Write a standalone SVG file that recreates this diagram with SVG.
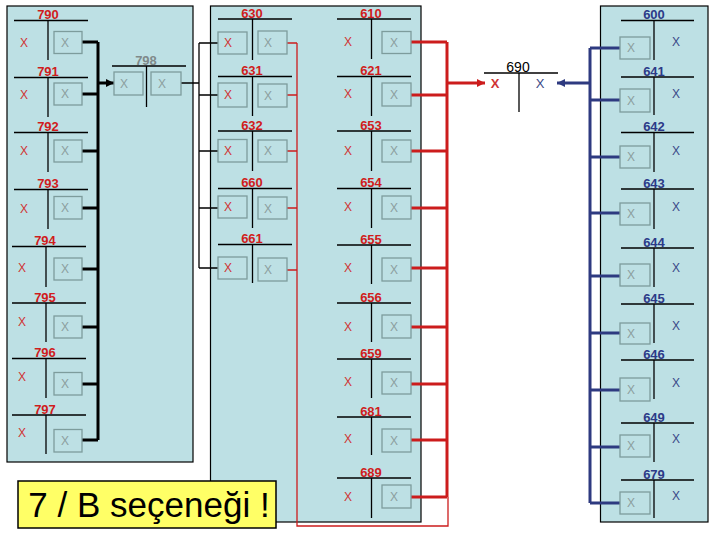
<svg xmlns="http://www.w3.org/2000/svg" width="720" height="540" viewBox="0 0 720 540">
<style>
.pn{fill:#bde0e4;stroke:#000;stroke-width:1.2}
.nl{stroke:#000;stroke-width:1.3;fill:none}
.bx{fill:none;stroke:#7d9c9c;stroke-width:1.3}
text{font-family:"Liberation Sans",Arial,sans-serif}
.lr{font-size:13px;font-weight:bold;fill:#d01c1c;text-anchor:middle}
.lb{font-size:13px;font-weight:bold;fill:#2c3a88;text-anchor:middle}
.lg{font-size:13px;font-weight:bold;fill:#7f8a8a;text-anchor:middle}
.xr{font-size:12px;fill:#d03434;text-anchor:middle}
.xg{font-size:12px;fill:#8c9e9e;text-anchor:middle}
.xb{font-size:12px;fill:#3a4888;text-anchor:middle}
.kb{stroke:#000;stroke-width:3;fill:none}
.kt{stroke:#000;stroke-width:1.3;fill:none}
.rb{stroke:#cc1c1c;stroke-width:3;fill:none}
.rt{stroke:#cc1c1c;stroke-width:1.3;fill:none}
.bb{stroke:#2e3a80;stroke-width:3;fill:none}
</style>
<defs>
<marker id="ak" markerWidth="8" markerHeight="8" refX="8" refY="4" orient="auto" markerUnits="userSpaceOnUse"><path d="M0,0 L8,4 L0,8 z" fill="#000"/></marker>
<marker id="ar" markerWidth="8" markerHeight="8" refX="8" refY="4" orient="auto" markerUnits="userSpaceOnUse"><path d="M0,0 L8,4 L0,8 z" fill="#cc1c1c"/></marker>
<marker id="ab" markerWidth="8" markerHeight="8" refX="8" refY="4" orient="auto" markerUnits="userSpaceOnUse"><path d="M0,0 L8,4 L0,8 z" fill="#2e3a80"/></marker>
</defs>
<rect width="720" height="540" fill="#fff"/>
<!-- panels -->
<rect class="pn" x="7" y="6" width="186" height="456"/>
<rect class="pn" x="210.5" y="6" width="210.5" height="516"/>
<rect class="pn" x="600.5" y="6" width="107.5" height="516"/>

<!-- connectors -->
<g id="connectors">
<!-- left black bus -->
<path class="kb" d="M98,42 V440 M82,42 H98 M82,94 H98 M82,151 H98 M82,208 H98 M82,269 H98 M82,327 H98 M82,384 H98 M82,440 H98"/>
<line class="kb" x1="98" y1="83" x2="114" y2="83" stroke-width="2.5" marker-end="url(#ak)"/>
<!-- 798 to col A -->
<path class="kt" d="M181,83 H199 M199,43 V268 M199,43 H218 M199,95 H218 M199,151 H218 M199,208 H218 M199,268 H218"/>
<!-- col A red thin -->
<path class="rt" d="M287,43 H297 M287,95 H297 M287,151 H297 M287,208 H297 M287,270 H297 M297,43 V526 H448 V497"/>
<!-- col B red thick -->
<path class="rb" d="M447,42 V497 M411,42 H447 M411,95 H447 M411,151 H447 M411,208 H447 M411,268 H447 M411,327 H447 M411,384 H447 M411,440 H447 M411,497 H447"/>
<line class="rb" x1="447" y1="83" x2="485" y2="83" stroke-width="2" marker-end="url(#ar)"/>
<!-- right blue -->
<path class="bb" d="M590,48 V503 M590,48 H620 M590,100 H620 M590,157 H620 M590,213 H620 M590,276 H620 M590,333 H620 M590,390 H620 M590,447 H620 M590,503 H620"/>
<line class="bb" x1="590" y1="83" x2="557" y2="83" stroke-width="2" marker-end="url(#ab)"/>
</g>

<!-- left panel nodes -->
<g id="n790"><text class="lr" x="48" y="19">790</text><line class="nl" x1="14" y1="20.5" x2="88" y2="20.5"/><line class="nl" x1="48" y1="20.5" x2="48" y2="60"/><text class="xr" x="24" y="47.3">X</text><rect class="bx" x="54" y="31.5" width="28" height="22"/><text class="xg" x="65" y="46.8">X</text></g>
<g id="n791"><text class="lr" x="48" y="76">791</text><line class="nl" x1="14" y1="77.5" x2="88" y2="77.5"/><line class="nl" x1="48" y1="77.5" x2="48" y2="117"/><text class="xr" x="24" y="99.3">X</text><rect class="bx" x="54" y="83" width="28" height="22"/><text class="xg" x="65" y="98.3">X</text></g>
<g id="n792"><text class="lr" x="48" y="131">792</text><line class="nl" x1="14" y1="132.5" x2="88" y2="132.5"/><line class="nl" x1="48" y1="132.5" x2="48" y2="172"/><text class="xr" x="24" y="155.3">X</text><rect class="bx" x="54" y="140" width="28" height="22"/><text class="xg" x="65" y="155.3">X</text></g>
<g id="n793"><text class="lr" x="48" y="188">793</text><line class="nl" x1="14" y1="189.5" x2="88" y2="189.5"/><line class="nl" x1="48" y1="189.5" x2="48" y2="229"/><text class="xr" x="24" y="213.3">X</text><rect class="bx" x="54" y="196.5" width="28" height="22.5"/><text class="xg" x="65" y="212">X</text></g>
<g id="n794"><text class="lr" x="45" y="245">794</text><line class="nl" x1="12" y1="246.5" x2="86" y2="246.5"/><line class="nl" x1="46" y1="246.5" x2="46" y2="287"/><text class="xr" x="22" y="272.3">X</text><rect class="bx" x="54" y="258" width="28" height="22"/><text class="xg" x="65" y="273.3">X</text></g>
<g id="n795"><text class="lr" x="45" y="301.5">795</text><line class="nl" x1="12" y1="303" x2="86" y2="303"/><line class="nl" x1="46" y1="303" x2="46" y2="342"/><text class="xr" x="22" y="326.3">X</text><rect class="bx" x="54" y="316" width="28" height="22"/><text class="xg" x="65" y="331.3">X</text></g>
<g id="n796"><text class="lr" x="45" y="357">796</text><line class="nl" x1="12" y1="358.5" x2="86" y2="358.5"/><line class="nl" x1="46" y1="358.5" x2="46" y2="398"/><text class="xr" x="22" y="381.3">X</text><rect class="bx" x="54" y="372.5" width="28" height="22.5"/><text class="xg" x="65" y="388.3">X</text></g>
<g id="n797"><text class="lr" x="45" y="413.5">797</text><line class="nl" x1="12" y1="415" x2="86" y2="415"/><line class="nl" x1="46" y1="415" x2="46" y2="454"/><text class="xr" x="22" y="437.3">X</text><rect class="bx" x="54" y="429.5" width="28" height="22.5"/><text class="xg" x="65" y="445">X</text></g>
<g id="n798"><text class="lg" x="146" y="64.5">798</text><line class="nl" x1="112" y1="66" x2="186" y2="66"/><line class="nl" x1="146.5" y1="66" x2="146.5" y2="107"/><rect class="bx" x="114" y="72" width="29" height="23"/><text class="xg" x="124" y="87.5">X</text><rect class="bx" x="151" y="72" width="30" height="23"/><text class="xg" x="162" y="87.5">X</text></g>

<!-- middle col A -->
<g id="n630"><text class="lr" x="252" y="17.5">630</text><line class="nl" x1="218" y1="19" x2="292" y2="19"/><line class="nl" x1="252.5" y1="19" x2="252.5" y2="60"/><rect class="bx" x="218" y="32" width="29" height="22"/><text class="xr" x="228" y="47.3">X</text><rect class="bx" x="258" y="31" width="29" height="23"/><text class="xg" x="268" y="47">X</text></g>
<g id="n631"><text class="lr" x="252" y="75">631</text><line class="nl" x1="218" y1="76.5" x2="292" y2="76.5"/><line class="nl" x1="252.5" y1="76.5" x2="252.5" y2="116"/><rect class="bx" x="218" y="83" width="29" height="24"/><text class="xr" x="228" y="99.3">X</text><rect class="bx" x="258" y="84" width="29" height="23"/><text class="xg" x="268" y="99.5">X</text></g>
<g id="n632"><text class="lr" x="252" y="129.5">632</text><line class="nl" x1="218" y1="131" x2="292" y2="131"/><line class="nl" x1="252.5" y1="131" x2="252.5" y2="171"/><rect class="bx" x="218" y="139.5" width="29" height="22.5"/><text class="xr" x="228" y="155.3">X</text><rect class="bx" x="258" y="140" width="29" height="22"/><text class="xg" x="268" y="155.3">X</text></g>
<g id="n660"><text class="lr" x="252" y="187">660</text><line class="nl" x1="218" y1="188.5" x2="292" y2="188.5"/><line class="nl" x1="252.5" y1="188.5" x2="252.5" y2="228"/><rect class="bx" x="218" y="196" width="29" height="22"/><text class="xr" x="228" y="211.3">X</text><rect class="bx" x="258" y="197" width="29" height="22"/><text class="xg" x="268" y="212.5">X</text></g>
<g id="n661"><text class="lr" x="252" y="243">661</text><line class="nl" x1="218" y1="244.5" x2="292" y2="244.5"/><line class="nl" x1="252.5" y1="244.5" x2="252.5" y2="283"/><rect class="bx" x="218" y="257" width="29" height="22"/><text class="xr" x="228" y="272.3">X</text><rect class="bx" x="258" y="258" width="29" height="23"/><text class="xg" x="268" y="274">X</text></g>

<!-- middle col B -->
<g id="n610"><text class="lr" x="371" y="17.5">610</text><line class="nl" x1="337" y1="19" x2="411" y2="19"/><line class="nl" x1="371.5" y1="19" x2="371.5" y2="59"/><text class="xr" x="348" y="46.3">X</text><rect class="bx" x="382" y="31.5" width="29" height="22"/><text class="xg" x="394" y="46.8">X</text></g>
<g id="n621"><text class="lr" x="371" y="75">621</text><line class="nl" x1="337" y1="76.5" x2="411" y2="76.5"/><line class="nl" x1="371.5" y1="76.5" x2="371.5" y2="116"/><text class="xr" x="348" y="98.3">X</text><rect class="bx" x="382" y="83" width="29" height="23"/><text class="xg" x="394" y="98.8">X</text></g>
<g id="n653"><text class="lr" x="371" y="129.5">653</text><line class="nl" x1="337" y1="131" x2="411" y2="131"/><line class="nl" x1="371.5" y1="131" x2="371.5" y2="171"/><text class="xr" x="348" y="155.3">X</text><rect class="bx" x="382" y="140" width="29" height="22"/><text class="xg" x="394" y="155.3">X</text></g>
<g id="n654"><text class="lr" x="371" y="187">654</text><line class="nl" x1="337" y1="188.5" x2="411" y2="188.5"/><line class="nl" x1="371.5" y1="188.5" x2="371.5" y2="228"/><text class="xr" x="348" y="211.3">X</text><rect class="bx" x="382" y="196" width="29" height="23"/><text class="xg" x="394" y="212">X</text></g>
<g id="n655"><text class="lr" x="371" y="243.5">655</text><line class="nl" x1="337" y1="245" x2="411" y2="245"/><line class="nl" x1="371.5" y1="245" x2="371.5" y2="284"/><text class="xr" x="348" y="272.3">X</text><rect class="bx" x="382" y="258" width="29" height="23"/><text class="xg" x="394" y="273.8">X</text></g>
<g id="n656"><text class="lr" x="371" y="301.5">656</text><line class="nl" x1="337" y1="303" x2="411" y2="303"/><line class="nl" x1="371.5" y1="303" x2="371.5" y2="342"/><text class="xr" x="348" y="331.3">X</text><rect class="bx" x="382" y="315" width="29" height="23"/><text class="xg" x="394" y="330.8">X</text></g>
<g id="n659"><text class="lr" x="371" y="357.5">659</text><line class="nl" x1="337" y1="359" x2="411" y2="359"/><line class="nl" x1="371.5" y1="359" x2="371.5" y2="398"/><text class="xr" x="348" y="386.3">X</text><rect class="bx" x="382" y="372" width="29" height="22"/><text class="xg" x="394" y="387.3">X</text></g>
<g id="n681"><text class="lr" x="371" y="415.5">681</text><line class="nl" x1="337" y1="417" x2="411" y2="417"/><line class="nl" x1="371.5" y1="417" x2="371.5" y2="455"/><text class="xr" x="348" y="443.3">X</text><rect class="bx" x="382" y="429" width="29" height="23"/><text class="xg" x="394" y="444.8">X</text></g>
<g id="n689"><text class="lr" x="371" y="476.5">689</text><line class="nl" x1="337" y1="478" x2="411" y2="478"/><line class="nl" x1="371.5" y1="478" x2="371.5" y2="518"/><text class="xr" x="348" y="501.3">X</text><rect class="bx" x="382" y="485" width="29" height="23"/><text class="xg" x="394" y="500.8">X</text></g>

<!-- 690 -->
<g id="n690"><text x="518" y="71.5" style="font-size:14px;fill:#000;text-anchor:middle">690</text><line class="nl" x1="484" y1="73" x2="558" y2="73"/><line class="nl" x1="519" y1="73" x2="519" y2="112"/><text class="xr" x="495" y="87.5" style="font-size:13px;font-weight:bold">X</text><text class="xb" x="540" y="87.5" style="font-size:13px">X</text></g>

<!-- right panel -->
<g id="n600"><text class="lb" x="654" y="19">600</text><line class="nl" x1="621" y1="20.5" x2="694" y2="20.5"/><line class="nl" x1="654" y1="20.5" x2="654" y2="60"/><rect class="bx" x="620" y="37" width="30" height="22"/><text class="xg" x="631" y="52.3">X</text><text class="xb" x="676" y="46.3">X</text></g>
<g id="n641"><text class="lb" x="654" y="75.5">641</text><line class="nl" x1="621" y1="77" x2="694" y2="77"/><line class="nl" x1="654" y1="77" x2="654" y2="115"/><rect class="bx" x="620" y="89" width="30" height="23"/><text class="xg" x="631" y="104.8">X</text><text class="xb" x="676" y="98.3">X</text></g>
<g id="n642"><text class="lb" x="654" y="131">642</text><line class="nl" x1="621" y1="132.5" x2="694" y2="132.5"/><line class="nl" x1="654" y1="132.5" x2="654" y2="172"/><rect class="bx" x="620" y="146" width="30" height="22"/><text class="xg" x="631" y="161.3">X</text><text class="xb" x="676" y="155.3">X</text></g>
<g id="n643"><text class="lb" x="654" y="187.5">643</text><line class="nl" x1="621" y1="189" x2="694" y2="189"/><line class="nl" x1="654" y1="189" x2="654" y2="229"/><rect class="bx" x="620" y="203" width="30" height="22"/><text class="xg" x="631" y="218.3">X</text><text class="xb" x="676" y="211.3">X</text></g>
<g id="n644"><text class="lb" x="654" y="246.5">644</text><line class="nl" x1="621" y1="248" x2="694" y2="248"/><line class="nl" x1="654" y1="248" x2="654" y2="287"/><rect class="bx" x="620" y="264" width="30" height="22"/><text class="xg" x="631" y="279.3">X</text><text class="xb" x="676" y="272.3">X</text></g>
<g id="n645"><text class="lb" x="654" y="302.5">645</text><line class="nl" x1="621" y1="304" x2="694" y2="304"/><line class="nl" x1="654" y1="304" x2="654" y2="343"/><rect class="bx" x="620" y="323" width="30" height="21"/><text class="xg" x="631" y="337.8">X</text><text class="xb" x="676" y="330.3">X</text></g>
<g id="n646"><text class="lb" x="654" y="358.5">646</text><line class="nl" x1="621" y1="360" x2="694" y2="360"/><line class="nl" x1="654" y1="360" x2="654" y2="399"/><rect class="bx" x="620" y="378" width="30" height="23"/><text class="xg" x="631" y="394">X</text><text class="xb" x="676" y="387.3">X</text></g>
<g id="n649"><text class="lb" x="654" y="421.5">649</text><line class="nl" x1="621" y1="423" x2="694" y2="423"/><line class="nl" x1="654" y1="423" x2="654" y2="462"/><rect class="bx" x="620" y="435" width="30" height="22"/><text class="xg" x="631" y="450.3">X</text><text class="xb" x="676" y="443.3">X</text></g>
<g id="n679"><text class="lb" x="654" y="478.5">679</text><line class="nl" x1="621" y1="480" x2="694" y2="480"/><line class="nl" x1="654" y1="480" x2="654" y2="518"/><rect class="bx" x="620" y="492" width="30" height="22"/><text class="xg" x="631" y="507.3">X</text><text class="xb" x="676" y="500.3">X</text></g>

<!-- yellow note -->
<g id="note"><rect x="18" y="481" width="258" height="47" fill="#ffff66" stroke="#000" stroke-width="1.5"/><text x="149" y="517" style="font-size:35px;fill:#000;text-anchor:middle">7 / B seçeneği !</text></g>
</svg>
